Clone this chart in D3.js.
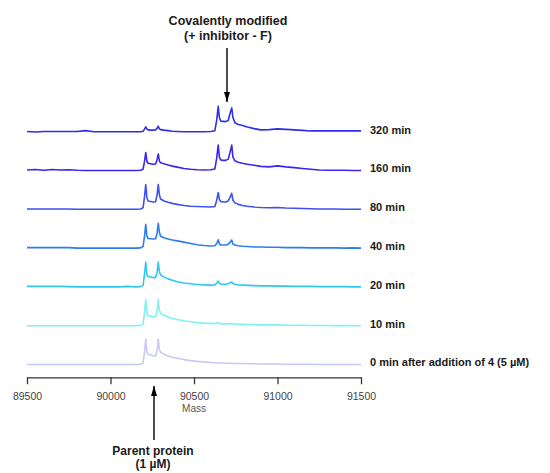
<!DOCTYPE html>
<html>
<head>
<meta charset="utf-8">
<script src="https://cdn.jsdelivr.net/npm/d3@7"></script>
<style>
  body { margin: 0; background: #fff; }
  svg { display: block; font-family: "Liberation Sans", Arial, sans-serif; }
</style>
</head>
<body>
<div id="chart"></div>
<script>
// Deconvoluted mass spectra, one trace per time point (relative intensity)
const masses = [
  89500, 89550, 89600, 89650, 89700, 89750, 89800, 89850, 89900, 89950,
  90000, 90050, 90100, 90150, 90180, 90195, 90204, 90211, 90218, 90225,
  90240, 90255, 90270, 90279, 90286, 90293, 90300, 90320, 90345, 90370,
  90400, 90440, 90480, 90520, 90560, 90600, 90625, 90636, 90645, 90652,
  90660, 90675, 90690, 90705, 90718, 90726, 90733, 90745, 90765, 90790,
  90820, 90860, 90900, 90950, 91000, 91050, 91100, 91150, 91200, 91250,
  91300, 91350, 91400, 91450, 91500
];

const int0 = [
  0, 0, 0, 0, 0, 0, 0, 0, 0, 0,
  0, 0, 0, 0, 1, 6, 50, 97, 48, 40,
  37, 34, 33, 55, 97, 58, 48, 40, 33, 28,
  24, 19, 15, 12, 10, 8, 7, 7, 6, 6,
  6, 5, 5, 5, 5, 4, 4, 4, 4, 4,
  3, 3, 2, 2, 2, 1, 1, 1, 1, 0,
  0, 0, 0, 0, 0
];
const int10 = [
  0, 0, 0, 0, 0, 0, 0, 0, 0, 0,
  0, 0, 0, 0, 1, 6, 52, 100, 50, 40,
  37, 34, 34, 56, 100, 58, 48, 40, 33, 28,
  24, 19, 15, 12, 10, 9, 8, 10, 12, 9,
  8, 7, 7, 7, 8, 9, 7, 6, 5, 5,
  4, 4, 3, 3, 3, 2, 2, 2, 1, 1,
  1, 0, 1, 0, 0
];
const int20 = [
  2, 2, 2, 2, 2, 1, 0, 0, 0, 0,
  0, 0, 2, 0, 1, 6, 50, 96, 48, 40,
  38, 36, 36, 56, 96, 58, 46, 38, 31, 26,
  20, 15, 12, 9, 8, 7, 8, 15, 22, 14,
  11, 10, 10, 12, 16, 19, 13, 10, 8, 7,
  6, 5, 4, 4, 3, 3, 2, 2, 2, 1,
  1, 1, 1, 0, 0
];
const int40 = [
  2, 2, 2, 2, 2, 2, 0, 0, 0, 0,
  0, 0, 0, 0, 1, 6, 48, 92, 46, 37,
  36, 35, 36, 58, 96, 60, 46, 40, 35, 31,
  28, 23, 18, 13, 10, 8, 9, 18, 32, 16,
  12, 12, 12, 15, 24, 31, 16, 12, 9, 7,
  6, 4, 4, 3, 3, 2, 2, 2, 1, 1,
  1, 1, 0, 1, 0
];
const int80 = [
  1, 1, 1, 1, 1, 1, 0, 0, 0, 0,
  0, 0, 0, 0, 1, 6, 50, 96, 45, 32,
  30, 28, 29, 56, 96, 55, 40, 32, 27, 23,
  19, 15, 12, 11, 10, 9, 11, 35, 65, 38,
  30, 28, 28, 32, 50, 62, 35, 25, 19, 15,
  12, 9, 7, 6, 7, 5, 4, 3, 2, 1,
  1, 1, 0, 0, 0
];
const int160 = [
  2, 4, 1, 4, 2, 3, 1, 0, 0, 0,
  0, 0, 0, 0, 1, 5, 36, 69, 35, 28,
  26, 24, 25, 42, 64, 36, 30, 26, 21, 17,
  13, 8, 5, 3, 2, 3, 6, 48, 98, 52,
  41, 39, 39, 44, 76, 98, 52, 38, 32, 28,
  24, 20, 16, 14, 18, 14, 11, 8, 5, 2,
  1, 1, 1, 0, 0
];
const int320 = [
  1, -1, 1, 1, 1, 1, 1, 4, 0, 0,
  0, 0, 0, 0, 0, 2, 10, 19, 10, 7,
  6, 6, 7, 13, 21, 11, 8, 6, 4, 2,
  1, 0, 0, 0, 0, 1, 4, 45, 98, 55,
  41, 40, 39, 44, 75, 92, 55, 35, 28, 24,
  18, 12, 7, 8, 11, 9, 7, 5, 3, 3,
  3, 3, 3, 3, 3
];

const labels = ["0 min after addition of 4 (5 \u00b5M)", "10 min", "20 min", "40 min", "80 min", "160 min", "320 min"];
const colors = ["#c8c8f6", "#7ef2f4", "#30c8f2", "#2e7cf2", "#3e50f2", "#3a26ee", "#2e2ee8"];
const traces = [int0, int10, int20, int40, int80, int160, int320];
const xTicks = [89500, 90000, 90500, 91000, 91500];
const stackStep = 150;

const width = 550;
const height = 473;

const svg = d3.select("#chart")
  .append("svg")
  .attr("width", width)
  .attr("height", height);

svg.append("rect")
  .attr("width", width)
  .attr("height", height)
  .attr("fill", "#fff");

const x = d3.scaleLinear()
  .domain([89500, 91500])
  .range([27, 361]);

// vertical: each trace stacked stackStep units above the previous one
const y = d3.scaleLinear()
  .domain([0, stackStep * 6])
  .range([364.5, 131.7]);

const line = d3.line()
  .x(d => x(d.mass))
  .y(d => y(d.value));

traces.forEach((vals, i) => {
  const pts = masses.map((m, j) => ({ mass: m, value: vals[j] + i * stackStep }));
  svg.append("path")
    .datum(pts)
    .attr("fill", "none")
    .attr("stroke", colors[i])
    .attr("stroke-width", 1.6)
    .attr("stroke-linejoin", "round")
    .attr("d", line);

  svg.append("text")
    .attr("x", 370)
    .attr("y", y(i * stackStep) + 1.8)
    .attr("font-size", 11)
    .attr("font-weight", "bold")
    .attr("fill", "#1a1a1a")
    .text(labels[i]);
});

// x axis
const axis = svg.append("g")
  .attr("transform", "translate(0,377.3)")
  .call(d3.axisBottom(x).tickValues(xTicks).tickFormat(d3.format("d"))
    .tickSize(7).tickSizeOuter(0).tickPadding(8));
axis.select(".domain").attr("stroke", "#333").attr("stroke-width", 1.3);
axis.selectAll(".tick line").attr("stroke", "#333").attr("stroke-width", 1.3);
axis.selectAll(".tick text")
  .attr("font-size", 10.5)
  .attr("font-family", "Liberation Sans, Arial, sans-serif")
  .attr("fill", "#444");

svg.append("text")
  .attr("x", x(90500))
  .attr("y", 411.5)
  .attr("text-anchor", "middle")
  .attr("font-size", 10)
  .attr("fill", "#555")
  .text("Mass");

// annotation arrows
const defs = svg.append("defs");
defs.append("marker")
  .attr("id", "head")
  .attr("viewBox", "0 0 10 6")
  .attr("refX", 10)
  .attr("refY", 3)
  .attr("markerWidth", 10)
  .attr("markerHeight", 6)
  .attr("markerUnits", "userSpaceOnUse")
  .attr("orient", "auto")
  .append("path")
  .attr("d", "M0,0 L10,3 L0,6 z")
  .attr("fill", "#000");

svg.append("line")
  .attr("x1", 227).attr("y1", 48)
  .attr("x2", 227).attr("y2", 102)
  .attr("stroke", "#000")
  .attr("stroke-width", 1.4)
  .attr("marker-end", "url(#head)");

svg.append("line")
  .attr("x1", 154).attr("y1", 440)
  .attr("x2", 154).attr("y2", 386)
  .attr("stroke", "#000")
  .attr("stroke-width", 1.4)
  .attr("marker-end", "url(#head)");

const topNote = svg.append("text")
  .attr("text-anchor", "middle")
  .attr("font-size", 12.5)
  .attr("font-weight", "bold")
  .attr("fill", "#1a1a1a");
topNote.append("tspan").attr("x", 228).attr("y", 25).text("Covalently modified");
topNote.append("tspan").attr("x", 228).attr("y", 39.5).text("(+ inhibitor - F)");

const bottomNote = svg.append("text")
  .attr("text-anchor", "middle")
  .attr("font-size", 12)
  .attr("font-weight", "bold")
  .attr("fill", "#1a1a1a");
bottomNote.append("tspan").attr("x", 153).attr("y", 454.5).text("Parent protein");
bottomNote.append("tspan").attr("x", 153).attr("y", 468).text("(1 \u00b5M)");
</script>
</body>
</html>
